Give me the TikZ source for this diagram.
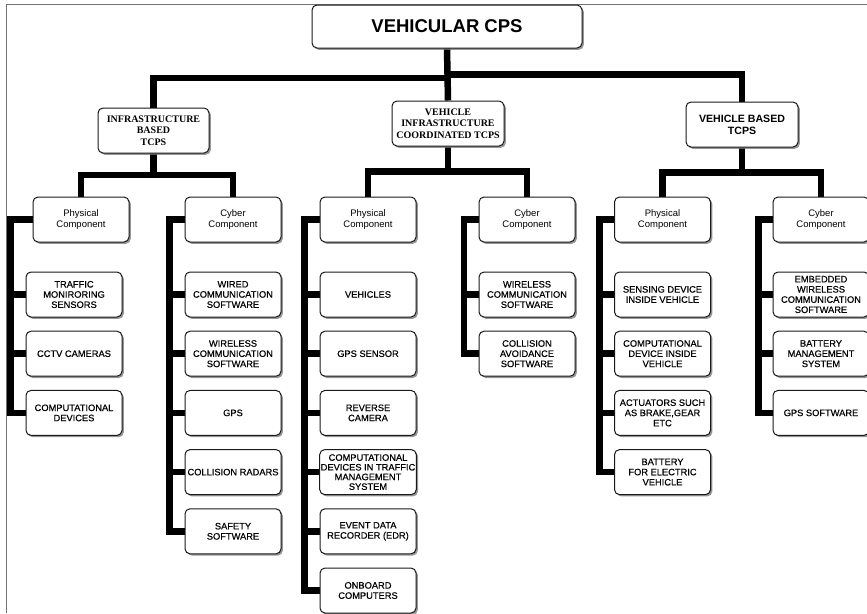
\documentclass[tikz,border=0pt]{standalone}
\usepackage{fontspec}
\setmainfont{Liberation Sans}
\newfontfamily\tierserif{Liberation Serif}
\newfontfamily\leaffont[FakeBold=0.45]{Liberation Sans}
\usetikzlibrary{shadows,backgrounds}

\tikzset{
  box/.style={draw=black!90, line width=1pt, rounded corners=5pt, fill=white,
    align=center, inner sep=1pt,
    drop shadow={shadow xshift=1.8pt, shadow yshift=-1.8pt, fill=black!55, opacity=0.75}},
  rootbox/.style={box, minimum width=270pt, minimum height=43pt,
    font=\bfseries\fontsize{18.5}{20}\selectfont},
  tierbox/.style={box, minimum width=111pt, minimum height=45pt},
  serifhead/.style={font=\tierserif\bfseries\fontsize{10}{11.5}\selectfont},
  sanshead/.style={font=\bfseries\fontsize{10.6}{11.7}\selectfont},
  compbox/.style={box, minimum width=96pt, minimum height=45pt,
    font=\fontsize{9.5}{10.3}\selectfont},
  leaf/.style={box, minimum width=96pt, minimum height=45pt,
    font=\leaffont\fontsize{9.3}{10.2}\selectfont},
  bus/.style={line width=6.5pt, draw=black, line join=miter, line cap=butt},
  frameline/.style={draw=black!55, line width=1.3pt},
}

\begin{document}
\begin{tikzpicture}[x=1pt, y=-1pt]
\useasboundingbox (0,0) rectangle (867,613);
\clip (0,0) rectangle (867,613);

% top and left frame lines
\coordinate (fTL) at (6.5,4.3);
\coordinate (fTR) at (867,4.3);
\coordinate (fBL) at (6.5,613);
\draw[frameline] (fBL) -- (fTL) -- (fTR);

% root and second tier
\node[rootbox] (root) at (447,26.5) {VEHICULAR CPS};
\node[tierbox, serifhead] (infra) at (153.5,130.5) {INFRASTRUCTURE\\BASED\\TCPS};
\node[tierbox, serifhead, minimum width=112pt] (vic) at (448,123.5) {VEHICLE\\INFRASTRUCTURE\\COORDINATED TCPS};
\node[tierbox, sanshead, minimum width=112pt] (vb) at (742,124.5) {VEHICLE BASED\\TCPS};

% component boxes
\node[compbox] (ip) at (81,219.5) {Physical\\Component};
\node[compbox] (ic) at (233,219.5) {Cyber\\Component};
\node[compbox] (vp) at (368,219.5) {Physical\\Component};
\node[compbox] (vc) at (527,219.5) {Cyber\\Component};
\node[compbox] (bp) at (662.5,219.5) {Physical\\Component};
\node[compbox] (bc) at (821,219.5) {Cyber\\Component};

% leaf boxes, one column per component
\foreach \t [count=\i] in {{TRAFFIC\\MONIRORING\\SENSORS},{CCTV CAMERAS},{COMPUTATIONAL\\DEVICES}}
  \node[leaf] (ip\i) at (74,235.3+59.2*\i) {\t};
\foreach \t [count=\i] in {{WIRED\\COMMUNICATION\\SOFTWARE},{WIRELESS\\COMMUNICATION\\SOFTWARE},{GPS},{COLLISION RADARS},{SAFETY\\SOFTWARE}}
  \node[leaf] (ic\i) at (233,235.3+59.2*\i) {\t};
\foreach \t [count=\i] in {{VEHICLES},{GPS SENSOR},{REVERSE\\CAMERA}}
  \node[leaf] (vp\i) at (368,235.3+59.2*\i) {\t};
\node[leaf, font=\leaffont\fontsize{9.3}{9.7}\selectfont] (vp4) at (368,472.1) {COMPUTATIONAL\\DEVICES IN TRAFFIC\\MANAGEMENT\\SYSTEM};
\node[leaf] (vp5) at (368,531.3) {EVENT DATA\\RECORDER (EDR)};
\node[leaf] (vp6) at (368,590.5) {ONBOARD\\COMPUTERS};
\foreach \t [count=\i] in {{WIRELESS\\COMMUNICATION\\SOFTWARE},{COLLISION\\AVOIDANCE\\SOFTWARE}}
  \node[leaf] (vc\i) at (527,235.3+59.2*\i) {\t};
\foreach \t [count=\i] in {{SENSING DEVICE\\INSIDE VEHICLE},{COMPUTATIONAL\\DEVICE INSIDE\\VEHICLE},{ACTUATORS SUCH\\AS BRAKE,GEAR\\ETC},{BATTERY\\FOR ELECTRIC\\VEHICLE}}
  \node[leaf] (bp\i) at (662.5,235.3+59.2*\i) {\t};
\foreach \t [count=\i] in {{EMBEDDED\\WIRELESS\\COMMUNICATION\\SOFTWARE},{BATTERY\\MANAGEMENT\\SYSTEM},{GPS SOFTWARE}}
  \node[leaf] (bc\i) at (821,235.3+59.2*\i) {\t};

% junction points of the bus bars and the rail positions
\coordinate (jL) at (448,78);
\coordinate (jR) at (448,74.5);
\coordinate (iBar) at (153.5,175);
\coordinate (vBar) at (448,171.5);
\coordinate (bBar) at (742,172.5);
\coordinate (ipRail) at (10.3,0);
\coordinate (icRail) at (169.5,0);
\coordinate (vpRail) at (304.7,0);
\coordinate (vcRail) at (464,0);
\coordinate (bpRail) at (599.5,0);
\coordinate (bcRail) at (758.5,0);

\begin{scope}[on background layer]
  % top level
  \draw[bus] (root.south) -- (vic.north);
  \draw[bus] (jL) -| (infra.north);
  \draw[bus] (jR) -| (vb.north);
  % second level
  \draw[bus] (infra.south) -- (iBar);
  \draw[bus] (ip.north) |- (iBar) -| (ic.north);
  \draw[bus] (vic.south) -- (vBar);
  \draw[bus] (vp.north) |- (vBar) -| (vc.north);
  \draw[bus] (vb.south) -- (bBar);
  \draw[bus] (bp.north) |- (bBar) -| (bc.north);
  % rails down to the leaves
  \draw[bus] (ip.west) -| (ipRail |- ip3.west) -- (ip3.west);
  \foreach \i in {1,2} \draw[bus] (ipRail |- ip\i.west) -- (ip\i.west);
  \draw[bus] (ic.west) -| (icRail |- ic5.west) -- (ic5.west);
  \foreach \i in {1,...,4} \draw[bus] (icRail |- ic\i.west) -- (ic\i.west);
  \draw[bus] (vp.west) -| (vpRail |- vp6.west) -- (vp6.west);
  \foreach \i in {1,...,5} \draw[bus] (vpRail |- vp\i.west) -- (vp\i.west);
  \draw[bus] (vc.west) -| (vcRail |- vc2.west) -- (vc2.west);
  \draw[bus] (vcRail |- vc1.west) -- (vc1.west);
  \draw[bus] (bp.west) -| (bpRail |- bp4.west) -- (bp4.west);
  \foreach \i in {1,2,3} \draw[bus] (bpRail |- bp\i.west) -- (bp\i.west);
  \draw[bus] (bc.west) -| (bcRail |- bc3.west) -- (bc3.west);
  \foreach \i in {1,2} \draw[bus] (bcRail |- bc\i.west) -- (bc\i.west);
\end{scope}
\end{tikzpicture}
\end{document}
